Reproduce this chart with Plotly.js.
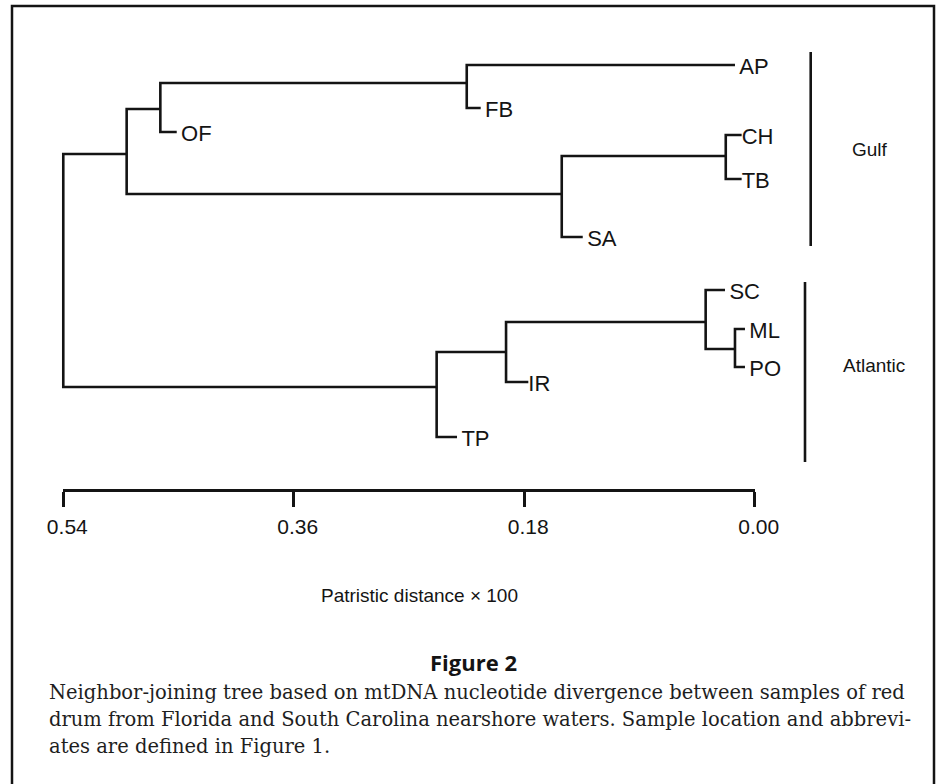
<!DOCTYPE html>
<html>
<head>
<meta charset="utf-8">
<script src="https://cdn.plot.ly/plotly-3.0.1.min.js"></script>
<style>html,body{margin:0;padding:0;background:#fff;}#chart{width:938px;height:784px;}</style>
</head>
<body>
<div id="chart"></div>
<script>
// ---------------- data ----------------
// Tree nodes: name, parent, patristic distance from tips (x100), vertical row position
const nodeNames   = ['root','gulfNode','ofNode','apfbNode','AP','FB','OF','ctsNode','chtbNode','CH','TB','SA',
                     'atlNode','TP','irNode','IR','scNode','SC','mlpoNode','ML','PO'];
const nodeParents = [null,'root','gulfNode','ofNode','apfbNode','apfbNode','ofNode','gulfNode','ctsNode','chtbNode','chtbNode','ctsNode',
                     'root','atlNode','atlNode','irNode','irNode','scNode','scNode','mlpoNode','mlpoNode'];
const nodeDist    = [0.540,0.4905,0.4642,0.2249,0.0154,0.2140,0.4514,0.1507,0.0226,0.0102,0.0102,0.1343,
                     0.2484,0.2325,0.1942,0.1768,0.0383,0.0232,0.0154,0.0076,0.0076];
const nodeRow     = [27.0,15.4,10.9,8.3,6.5,10.8,13.2,19.4,15.6,13.5,17.9,23.7,
                     38.7,43.7,35.2,38.2,32.2,29.0,34.9,32.9,36.7];
const leafLabels  = ['AP','FB','OF','CH','TB','SA','SC','ML','PO','IR','TP'];

// Region groups
const groupNames  = ['Gulf','Atlantic'];
const groupTop    = [5.2, 28.2];
const groupBottom = [24.6, 46.2];

// Scale bar
const scaleTicks  = [0.54, 0.36, 0.18, 0.00];
const scaleText   = ['0.54','0.36','0.18','0.00'];
const scaleTitle  = 'Patristic distance \u00d7 100';

const figTitle = 'Figure 2';
const captionLines = [
  'Neighbor-joining tree based on mtDNA nucleotide divergence between samples of red',
  'drum from Florida and South Carolina nearshore waters. Sample location and abbrevi-',
  'ates are defined in Figure 1.'
];

// ---------------- layout helpers ----------------
const W = 938, H = 784;
const PXU = 1280.4;      // pixels per distance unit
const ZERO_PX = 754.7;   // pixel of distance 0.00
const LEFT_PX = 63.3;    // pixel of distance 0.54
const ROW_PX = 10;       // pixels per row unit
function px2d(p){ return (ZERO_PX - p) / PXU; }
function fx(p){ return p / W; }
function fy(p){ return (H - p) / H; }

const idx = {};
nodeNames.forEach((n,i)=>{ idx[n]=i; });

// elbow segments
const tx = [], ty = [];
nodeNames.forEach((n,i)=>{
  const p = nodeParents[i];
  if(p === null) return;
  const j = idx[p];
  tx.push(nodeDist[j], nodeDist[j], nodeDist[i], null);
  ty.push(nodeRow[j],  nodeRow[i],  nodeRow[i],  null);
});

const tight = {CH:1, TB:1, IR:1};
const lx = leafLabels.map(n=>nodeDist[idx[n]]);
const ly = leafLabels.map(n=>nodeRow[idx[n]] + 0.3);
const lt = leafLabels.map(n=>(tight[n] ? '' : '\u2009') + n);

// group bars
const barX = [px2d(810.7), px2d(805)];
const gx = [], gy = [];
groupNames.forEach((g,i)=>{ gx.push(barX[i], barX[i], null); gy.push(groupTop[i], groupBottom[i], null); });

const INK = '#141414';
const SANS = 'Liberation Sans, Arial, sans-serif';
const traces = [
  {type:'scatter', mode:'lines', x:tx, y:ty, line:{color:INK, width:2.6, shape:'linear'},
   hoverinfo:'skip', showlegend:false},
  {type:'scatter', mode:'text', x:lx, y:ly, text:lt, textposition:'middle right',
   textfont:{family:SANS, size:22, color:INK},
   cliponaxis:false, hoverinfo:'skip', showlegend:false},
  {type:'scatter', mode:'lines', x:gx, y:gy, line:{color:INK, width:2.6},
   hoverinfo:'skip', showlegend:false},
  {type:'scatter', mode:'lines', x:[0.54,0], y:[null,null], xaxis:'x2', yaxis:'y2',
   hoverinfo:'skip', showlegend:false}
];

const annotations = [
  {x:px2d(850), y:15.0, xref:'x', yref:'y', xanchor:'left', yanchor:'middle', showarrow:false,
   text:groupNames[0], font:{family:SANS, size:19, color:INK}},
  {x:px2d(841), y:36.6, xref:'x', yref:'y', xanchor:'left', yanchor:'middle', showarrow:false,
   text:groupNames[1], font:{family:SANS, size:19, color:INK}},
  {x:fx(419), y:fy(595), xref:'paper', yref:'paper', xanchor:'center', yanchor:'middle', showarrow:false,
   text:scaleTitle, font:{family:SANS, size:19, color:INK}},
  {x:fx(474), y:fy(662), xref:'paper', yref:'paper', xanchor:'center', yanchor:'middle', showarrow:false,
   text:'<b>'+figTitle+'</b>', font:{family:'Open Sans, sans-serif', size:22, color:INK}}
];
const capY = [692, 719, 746];
captionLines.forEach((t,i)=>{
  annotations.push({x:fx(47), y:fy(capY[i]), xref:'paper', yref:'paper', xanchor:'left', yanchor:'middle',
    showarrow:false, text:t, font:{family:'DejaVu Serif, serif', size:19.5, color:'#1e1e1e'}});
});

const layout = {
  width:W, height:H,
  margin:{l:0, r:0, t:0, b:0, pad:0},
  paper_bgcolor:'#fff', plot_bgcolor:'rgba(0,0,0,0)',
  showlegend:false,
  xaxis:{domain:[fx(20), fx(925)], range:[px2d(20), px2d(925)], visible:false, fixedrange:true},
  yaxis:{domain:[fy(470), fy(30)], range:[470/ROW_PX, 30/ROW_PX], visible:false, fixedrange:true},
  xaxis2:{domain:[fx(LEFT_PX), fx(ZERO_PX)], range:[0.54, 0], anchor:'y2',
    showline:true, linewidth:2.6, linecolor:INK, showgrid:false, zeroline:false,
    ticks:'outside', ticklen:15, tickwidth:2.6, tickcolor:INK,
    tickmode:'array', tickvals:scaleTicks, ticktext:scaleText,
    ticklabelshift:-4, ticklabelstandoff:2,
    tickfont:{family:SANS, size:21, color:INK},
    fixedrange:true},
  yaxis2:{domain:[fy(489), fy(487)], range:[0,1], visible:false, fixedrange:true, anchor:'x2'},
  shapes:[
    {type:'rect', xref:'paper', yref:'paper', x0:fx(12), x1:fx(934), y0:-0.02, y1:fy(6),
     line:{color:INK, width:2.5}, fillcolor:'rgba(0,0,0,0)'}
  ],
  annotations:annotations
};

Plotly.newPlot('chart', traces, layout, {staticPlot:true, displayModeBar:false});
</script>
</body>
</html>
